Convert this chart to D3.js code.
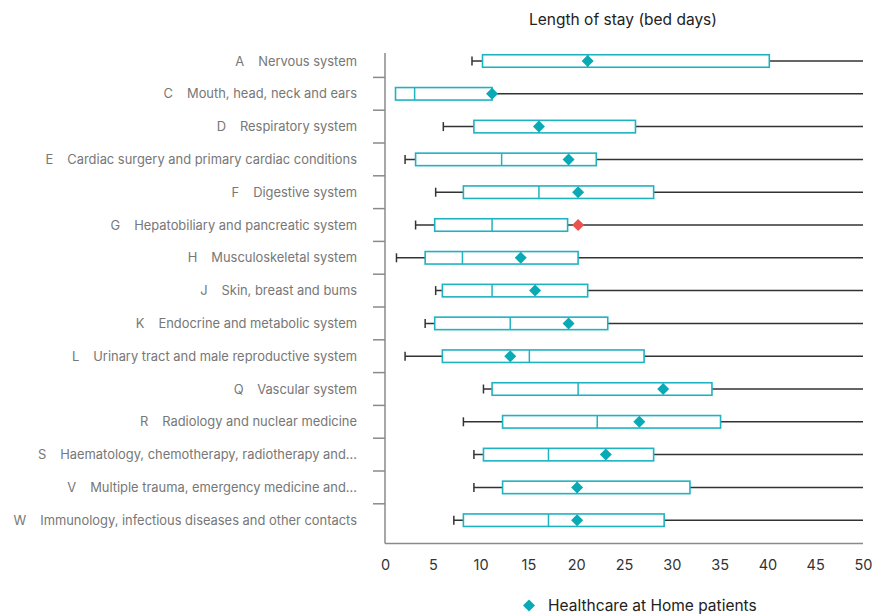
<!DOCTYPE html>
<html>
<head>
<meta charset="utf-8">
<script src="https://cdn.jsdelivr.net/npm/d3@7"></script>
<style>
  html, body { margin: 0; padding: 0; background: #fff; }
  svg { display: block; font-family: Inter, "Noto Sans", sans-serif; }
</style>
</head>
<body>
<div id="chart"></div>
<script>
// Length of stay by diagnosis group (bed days)
const codes = ['A', 'C', 'D', 'E', 'F', 'G', 'H', 'J', 'K', 'L', 'Q', 'R', 'S', 'V', 'W'];
const names = [
    'Nervous system',
    'Mouth, head, neck and ears',
    'Respiratory system',
    'Cardiac surgery and primary cardiac conditions',
    'Digestive system',
    'Hepatobiliary and pancreatic system',
    'Musculoskeletal system',
    'Skin, breast and bums',
    'Endocrine and metabolic system',
    'Urinary tract and male reproductive system',
    'Vascular system',
    'Radiology and nuclear medicine',
    'Haematology, chemotherapy, radiotherapy and...',
    'Multiple trauma, emergency medicine and...',
    'Immunology, infectious diseases and other contacts'
];
const whiskerLow = [9.1, 1.1, 6.1, 2.1, 5.3, 3.2, 1.2, 5.3, 4.2, 2.1, 10.3, 8.2, 9.3, 9.3, 7.2];
const q1 = [10.2, 1.1, 9.3, 3.2, 8.2, 5.2, 4.2, 6.0, 5.2, 6.0, 11.2, 12.3, 10.3, 12.3, 8.2];
const median = [21.2, 3.1, 16.1, 12.2, 16.1, 11.2, 8.1, 11.2, 13.1, 15.1, 20.2, 22.2, 17.1, 20.1, 17.1];
const q3 = [40.2, 11.2, 26.2, 22.1, 28.1, 19.1, 20.2, 21.2, 23.3, 27.1, 34.2, 35.1, 28.1, 31.9, 29.2];
const whiskerHigh = [50, 50, 50, 50, 50, 50, 50, 50, 50, 50, 50, 50, 50, 50, 50];
const hahMean = [21.2, 11.2, 16.1, 19.2, 20.2, 20.2, 14.2, 15.7, 19.2, 13.1, 29.1, 26.6, 23.1, 20.1, 20.1];
const xTicks = [0, 5, 10, 15, 20, 25, 30, 35, 40, 45, 50];

const width = 888, height = 615;
const left = 385, right = 863;
const teal = '#1fb3c2', tealDark = '#0aa9b6', red = '#e8534f';

const rows = codes.map((c, i) => ({
    code: c, name: names[i], lo: whiskerLow[i], q1: q1[i], med: median[i],
    q3: q3[i], hi: whiskerHigh[i], mean: hahMean[i]
}));

const svg = d3.select('#chart').append('svg')
    .attr('width', width)
    .attr('height', height);

const x = d3.scaleLinear().domain([0, 50]).range([left, right]);
const y = d3.scaleBand().domain(codes).range([44.6, 536.6]).padding(0);
const cy = c => y(c) + y.bandwidth() / 2;
const xc = v => x(Math.min(v, 50));

// title
svg.append('text')
    .attr('x', (left + right) / 2 - 1)
    .attr('y', 25)
    .attr('text-anchor', 'middle')
    .attr('font-size', 15.5)
    .attr('fill', '#222')
    .text('Length of stay (bed days)');

// axes
const axisColor = '#8a8a8a';
svg.append('line')
    .attr('x1', left).attr('x2', left)
    .attr('y1', 53).attr('y2', 543.5)
    .attr('stroke', axisColor).attr('stroke-width', 1.5);
svg.append('line')
    .attr('x1', left).attr('x2', right)
    .attr('y1', 543.5).attr('y2', 543.5)
    .attr('stroke', axisColor).attr('stroke-width', 1.5);

svg.selectAll('.ytick')
    .data(codes.slice(1))
    .join('line')
    .attr('class', 'ytick')
    .attr('x1', left - 12).attr('x2', left)
    .attr('y1', d => y(d)).attr('y2', d => y(d))
    .attr('stroke', axisColor).attr('stroke-width', 1.5);

const xAxis = svg.append('g')
    .attr('transform', `translate(0,${543.5})`)
    .call(d3.axisBottom(x).tickValues(xTicks).tickSize(0).tickPadding(16));
xAxis.select('.domain').remove();
xAxis.selectAll('text')
    .attr('font-family', 'Inter, "Noto Sans", sans-serif')
    .attr('font-size', 14.5)
    .attr('fill', '#333');

// category labels
const label = svg.selectAll('.cat')
    .data(rows)
    .join('text')
    .attr('class', 'cat')
    .attr('x', 357)
    .attr('y', d => cy(d.code))
    .attr('dy', '0.35em')
    .attr('text-anchor', 'end')
    .attr('font-size', 12.9)
    .attr('fill', '#777');
label.append('tspan').text(d => d.code);
label.append('tspan').attr('dx', 14).text(d => d.name);

// whiskers
const g = svg.append('g');
g.selectAll('.whisker')
    .data(rows)
    .join('line')
    .attr('class', 'whisker')
    .attr('x1', d => xc(d.lo)).attr('x2', d => xc(d.hi))
    .attr('y1', d => cy(d.code)).attr('y2', d => cy(d.code))
    .attr('stroke', '#333').attr('stroke-width', 1.5);

g.selectAll('.cap')
    .data(rows.filter(d => d.lo < d.q1))
    .join('line')
    .attr('class', 'cap')
    .attr('x1', d => xc(d.lo)).attr('x2', d => xc(d.lo))
    .attr('y1', d => cy(d.code) - 4.5).attr('y2', d => cy(d.code) + 4.5)
    .attr('stroke', '#333').attr('stroke-width', 1.5);

// boxes
const boxH = 12.5;
g.selectAll('.box')
    .data(rows)
    .join('rect')
    .attr('class', 'box')
    .attr('x', d => x(d.q1))
    .attr('y', d => cy(d.code) - boxH / 2)
    .attr('width', d => x(d.q3) - x(d.q1))
    .attr('height', boxH)
    .attr('fill', '#fff')
    .attr('stroke', teal).attr('stroke-width', 1.6);

g.selectAll('.median')
    .data(rows)
    .join('line')
    .attr('class', 'median')
    .attr('x1', d => x(d.med)).attr('x2', d => x(d.med))
    .attr('y1', d => cy(d.code) - boxH / 2).attr('y2', d => cy(d.code) + boxH / 2)
    .attr('stroke', teal).attr('stroke-width', 1.5);

// mean markers (Healthcare at Home patients)
const diamond = d3.symbol().type(d3.symbolSquare).size(72);
g.selectAll('.mean')
    .data(rows)
    .join('path')
    .attr('class', 'mean')
    .attr('d', diamond)
    .attr('transform', d => `translate(${x(d.mean)},${cy(d.code)}) rotate(45)`)
    .attr('fill', d => d.mean > d.q3 ? red : tealDark);

// legend
const legend = svg.append('g').attr('transform', 'translate(529,605.5)');
legend.append('path')
    .attr('d', diamond)
    .attr('transform', 'rotate(45)')
    .attr('fill', tealDark);
legend.append('text')
    .attr('x', 19)
    .attr('dy', '0.35em')
    .attr('font-size', 15.5)
    .attr('fill', '#222')
    .text('Healthcare at Home patients');
</script>
</body>
</html>
